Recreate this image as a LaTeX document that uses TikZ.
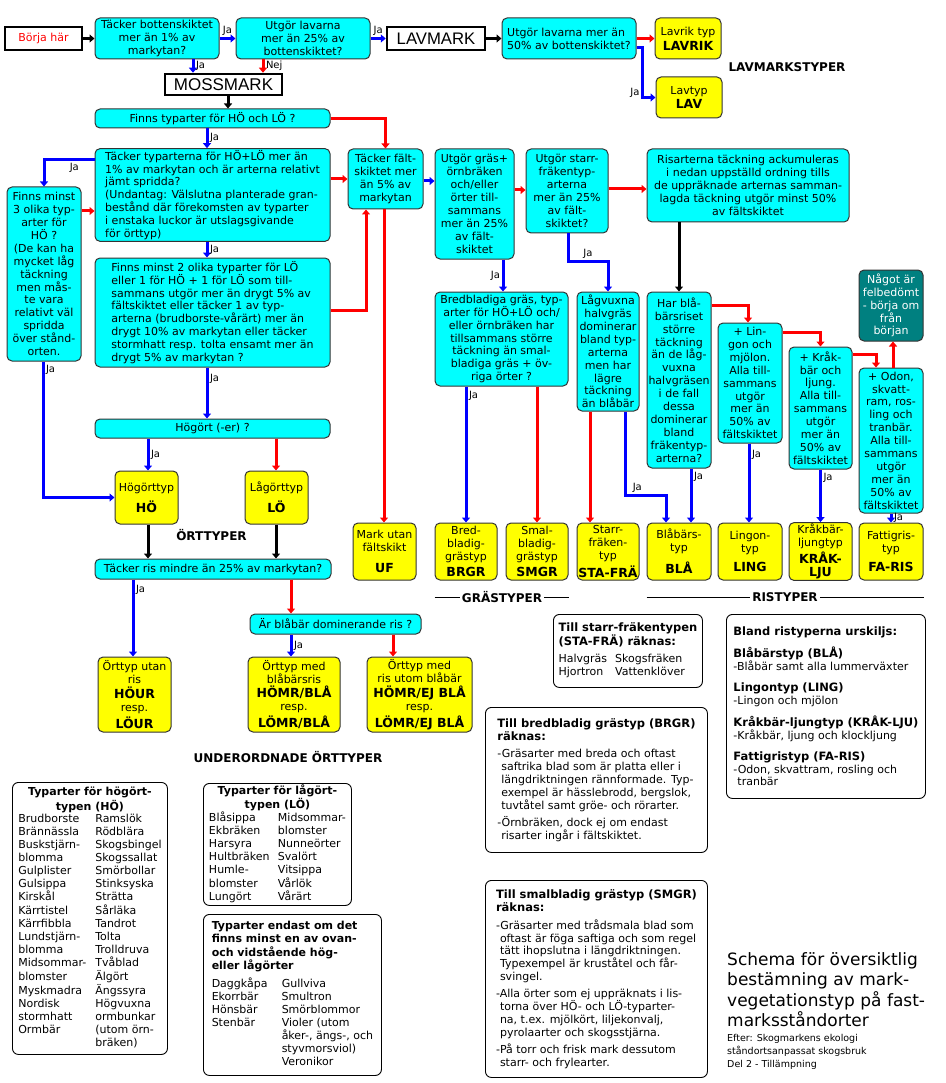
\documentclass[tikz,border=0pt]{standalone}
\usepackage{fontspec}
\setmainfont{DejaVu Sans}
\newfontfamily\marksans{Liberation Sans}
\usetikzlibrary{arrows.meta, positioning}
\definecolor{frgcyan}{RGB}{0,255,255}
\definecolor{typyellow}{RGB}{255,255,0}
\definecolor{felteal}{RGB}{0,128,128}
\definecolor{jablue}{RGB}{0,0,255}
\definecolor{nejred}{RGB}{255,0,0}
\newcommand\kodfont{\fontsize{12.5}{14}\selectfont\bfseries}
\newcommand\titfont{\fontsize{11.5}{14}\selectfont\bfseries}

\begin{document}
\begin{tikzpicture}[x=1pt, y=-1pt,
  every node/.style={font=\fontsize{11}{12.9}\selectfont},
  fraga/.style={rectangle, draw=black!80, fill=frgcyan, rounded corners=5pt, line width=1pt,
                inner sep=1.5pt, align=center},
  typ/.style={fraga, fill=typyellow},
  markbox/.style={rectangle, draw=black, line width=2.5pt, fill=white, inner sep=2pt},
  info/.style={rectangle, draw=black, rounded corners=6pt, line width=0.9pt, fill=white,
               align=left, inner sep=4pt, anchor=north west},
  wh/.style 2 args={minimum width=#1pt, minimum height=#2pt},
  lbl/.style={font=\fontsize{12}{14}\selectfont\bfseries, inner sep=2pt},
  svar/.style={font=\fontsize{10}{12}\selectfont, text=black, inner sep=1.5pt},
  ja/.style={draw=jablue, line width=3pt, -{Triangle[length=5pt,width=8pt]}},
  nej/.style={draw=nejred, line width=3pt, -{Triangle[length=5pt,width=8pt]}},
  sv/.style={draw=black, line width=3pt, -{Triangle[length=5pt,width=8pt]}},
]
  \useasboundingbox (0,0) rectangle (945,1083);

  % Start and ground types
  \node[markbox, wh={77}{23}, text=nejred] (start) at (43.5,38.5) {Börja här};
  \node[fraga, wh={124}{41}] (q1) at (157,38.5) {Täcker bottenskiktet\\mer än 1\% av\\markytan?};
  \node[fraga, wh={134}{41}] (q2) at (303,38.5) {Utgör lavarna\\mer än 25\% av\\bottenskiktet?};
  \node[markbox, wh={98}{23}, font=\marksans\fontsize{16.7}{18}\selectfont] (lavmark) at (436,38.5) {LAVMARK};
  \node[fraga, wh={134}{41}, align=left] (q3) at (569,38.5) {Utgör lavarna mer än\\50\% av bottenskiktet?};
  \node[typ, wh={66}{41}] (lavrik) at (688,38.5) {Lavrik typ\\[2pt]{\kodfont LAVRIK}};
  \node[typ, wh={66}{41}] (lav) at (689,97.5) {Lavtyp\\[2pt]{\kodfont LAV}};
  \node[lbl] (lavtyper) at (787,67) {LAVMARKSTYPER};
  \node[markbox, wh={117}{21}, font=\marksans\fontsize{17}{18}\selectfont] (mossmark) at (223.5,84.5) {MOSSMARK};

  % Herb questions
  \node[fraga, wh={235}{19}] (q4) at (212.5,118.5) {Finns typarter för HÖ och LÖ ?};
  \node[fraga, wh={235}{92}, align=left] (q5) at (212.5,195)
    {Täcker typarterna för HÖ+LÖ mer än\\1\% av markytan och är arterna relativt\\jämt spridda?\\(Undantag: Välslutna planterade gran-\\bestånd där förekomsten av typarter\\i enstaka luckor är utslagsgivande\\för örttyp)};
  \node[fraga, wh={74}{174}] (finns3) at (44,274)
    {Finns minst\\3 olika typ-\\arter för\\HÖ ?\\(De kan ha\\mycket låg\\täckning\\men mås-\\te vara\\relativt väl\\spridda\\över stånd-\\orten.};
  \node[fraga, wh={235}{109}, align=left] (q6) at (212.5,312.5)
    {Finns minst 2 olika typarter för LÖ\\eller 1 för HÖ + 1 för LÖ som till-\\sammans utgör mer än drygt 5\% av\\fältskiktet eller täcker 1 av typ-\\arterna (brudborste-vårärt) mer än\\drygt 10\% av markytan eller täcker\\stormhatt resp. tolta ensamt mer än\\drygt 5\% av markytan ?};

  % Field layer questions
  \node[fraga, wh={75}{60}] (falt) at (385.5,179) {Täcker fält-\\skiktet mer\\än 5\% av\\markytan};
  \node[fraga, wh={79}{110}] (gras) at (474.5,204) {Utgör gräs+\\örnbräken\\och/eller\\örter till-\\sammans\\mer än 25\%\\av fält-\\skiktet};
  \node[fraga, wh={82}{84}] (starr) at (567,191) {Utgör starr-\\fräkentyp-\\arterna\\mer än 25\%\\av fält-\\skiktet?};
  \node[fraga, wh={202}{73}] (ris) at (748,185.5) {Risarterna täckning ackumuleras\\i nedan uppställd ordning tills\\de uppräknade arternas samman-\\lagda täckning utgör minst 50\%\\av fältskiktet};
  \node[fraga, wh={133}{94}] (bred) at (501.5,339) {Bredbladiga gräs, typ-\\arter för HÖ+LÖ och/\\eller örnbräken har\\tillsammans större\\täckning än smal-\\bladiga gräs + öv-\\riga örter ?};
  \node[fraga, wh={62}{119}] (lag) at (608,351.5) {Lågvuxna\\halvgräs\\dominerar\\bland typ-\\arterna\\men har\\lägre\\täckning\\än blåbär};
  \node[fraga, wh={64}{176}] (har) at (679,380) {Har blå-\\bärsriset\\större\\täckning\\än de låg-\\vuxna\\halvgräsen\\i de fall\\dessa\\dominerar\\bland\\fräkentyp-\\arterna?};
  \node[fraga, wh={64}{120}] (lingq) at (750,383) {+ Lin-\\gon och\\mjölon.\\Alla till-\\sammans\\utgör\\mer än\\50\% av\\fältskiktet};
  \node[fraga, wh={63}{122}] (krakq) at (820.5,408) {+ Kråk-\\bär och\\ljung.\\Alla till-\\sammans\\utgör\\mer än\\50\% av\\fältskiktet};
  \node[fraga, wh={64}{145}] (odonq) at (891,440.5) {+ Odon,\\skvatt-\\ram, ros-\\ling och\\tranbär.\\Alla till-\\sammans\\utgör\\mer än\\50\% av\\fältskiktet};
  \node[fraga, wh={64}{71}, fill=felteal, text=white] (fel) at (891,305.5) {Något är\\felbedömt\\- börja om\\från\\början};

  % Grass and dwarf shrub types
  \node[typ, wh={63}{57}] (uf) at (384.5,551.5) {Mark utan\\fältskikt\\[8pt]{\kodfont UF}};
  \node[typ, wh={62}{57}] (brgr) at (466,551.5) {Bred-\\bladig-\\grästyp\\[3pt]{\kodfont BRGR}};
  \node[typ, wh={62}{57}] (smgr) at (537,551.5) {Smal-\\bladig-\\grästyp\\[3pt]{\kodfont SMGR}};
  \node[typ, wh={62}{57}, inner xsep=0.5pt] (stafra) at (608,551.5) {Starr-\\fräken-\\typ\\[3pt]{\kodfont STA-FRÄ}};
  \node[typ, wh={64}{57}] (bla) at (679,551.5) {Blåbärs-\\typ\\[7pt]{\kodfont BLÅ}};
  \node[typ, wh={64}{57}] (ling) at (750,551.5) {Lingon-\\typ\\[7pt]{\kodfont LING}};
  \node[typ, wh={63}{57}] (krak) at (820.5,551.5) {Kråkbär-\\ljungtyp\\[2pt]{\kodfont KRÅK-}\\{\kodfont LJU}};
  \node[typ, wh={64}{57}] (faris) at (891,551.5) {Fattigris-\\typ\\[7pt]{\kodfont FA-RIS}};
  \node[lbl] (grastyp) at (502,597) {GRÄSTYPER};
  \node[lbl] (ristyp) at (785,597) {RISTYPER};
  \draw[line width=0.8pt] (brgr.south west |- grastyp.west) -- (grastyp.west);
  \draw[line width=0.8pt] (grastyp.east) -- (smgr.south east |- grastyp.east);
  \draw[line width=0.8pt] (bla.south west |- ristyp.west) -- (ristyp.west);
  \draw[line width=0.8pt] (ristyp.east) -- (faris.south east |- ristyp.east);

  % Herb types
  \node[fraga, wh={235}{19}] (hogort) at (212.5,428.5) {Högört (-er) ?};
  \node[typ, wh={63}{53}] (ho) at (146.5,497.5) {Högörttyp\\[6pt]{\kodfont HÖ}};
  \node[typ, wh={63}{53}] (lo) at (276.5,497.5) {Lågörttyp\\[6pt]{\kodfont LÖ}};
  \node[lbl] (orttyper) at (211.5,535) {ÖRTTYPER};
  \node[fraga, wh={236}{20}] (risq) at (213,569) {Täcker ris mindre än 25\% av markytan?};
  \node[fraga, wh={171}{20}] (blaq) at (335.5,624) {Är blåbär dominerande ris ?};
  \node[typ, wh={73}{75}] (hour) at (134.5,694.5) {Örttyp utan\\ris\\[2pt]{\kodfont HÖUR}\\resp.\\[2pt]{\kodfont LÖUR}};
  \node[typ, wh={92}{75}] (hombla) at (294,694.5) {Örttyp med\\blåbärsris\\[2pt]{\kodfont HÖMR/BLÅ}\\resp.\\[2pt]{\kodfont LÖMR/BLÅ}};
  \node[typ, wh={105}{75}] (homej) at (419.5,694.5) {Örttyp med\\ris utom blåbär\\[2pt]{\kodfont HÖMR/EJ BLÅ}\\resp.\\[2pt]{\kodfont LÖMR/EJ BLÅ}};
  \node[lbl] (underord) at (288,757) {UNDERORDNADE ÖRTTYPER};

  % Connectors, top
  \draw[sv] (start.east) -- (q1.west);
  \draw[ja] (q1.east) -- node[svar, above]{Ja} (q2.west);
  \draw[ja] (q2.east) -- node[svar, above]{Ja} (lavmark.west);
  \draw[sv] (lavmark.east) -- (q3.west);
  \draw[nej] (q3.east) -- (lavrik.west);
  \draw[ja] ([yshift=-9.5pt]q3.east) -- ++(6,0) |- node[svar, pos=0.45, left]{Ja} (lav.west);
  \draw[ja] ([xshift=36pt]q1.south) -- node[svar, right]{Ja} ([xshift=-30.5pt]mossmark.north);
  \draw[nej] ([xshift=-40pt]q2.south) -- node[svar, right]{Nej} ([xshift=39.5pt]mossmark.north);
  \draw[sv] ([xshift=4.5pt]mossmark.south) -- ([xshift=15.5pt]q4.north);
  \draw[nej] (q4.east) -| (falt.north);
  \draw[ja] ([xshift=-5.5pt]q4.south) -- node[svar, right]{Ja} ([xshift=-5.5pt]q5.north);

  % Connectors, herbs
  \draw[ja] ([yshift=35pt]q5.west) -| node[svar, pos=0.2, below]{Ja} (finns3.north);
  \draw[nej] ([yshift=63pt]finns3.east) -- ([yshift=-16pt]q5.west);
  \draw[nej] ([yshift=16pt]q5.east) -- (falt.west);
  \draw[ja] ([xshift=-5.5pt]q5.south) -- node[svar, right]{Ja} ([xshift=-5.5pt]q6.north);
  \draw[nej] ([yshift=2.5pt]q6.east) -| ([xshift=-19.5pt]falt.south);
  \draw[ja] ([xshift=-5.5pt]q6.south) -- node[svar, pos=0.22, right]{Ja} ([xshift=-5.5pt]hogort.north);
  \draw[ja] ([xshift=-1pt]finns3.south) |- node[svar, pos=0.03, right]{Ja} (ho.west);
  \draw[ja] ([xshift=-64.5pt]hogort.south) -- node[svar, right]{Ja} ([xshift=1.5pt]ho.north);
  \draw[nej] ([xshift=63.5pt]hogort.south) -- ([xshift=-0.5pt]lo.north);
  \draw[sv] ([xshift=1.5pt]ho.south) -- ([xshift=-65pt]risq.north);
  \draw[sv] ([xshift=-0.5pt]lo.south) -- ([xshift=63pt]risq.north);
  \draw[ja] ([xshift=-80pt]risq.south) -- node[svar, pos=0.13, right]{Ja} ([xshift=-1.5pt]hour.north);
  \draw[nej] ([xshift=78pt]risq.south) -- ([xshift=-44.5pt]blaq.north);
  \draw[ja] ([xshift=-44.5pt]blaq.south) -- node[svar, right]{Ja} ([xshift=-3pt]hombla.north);
  \draw[nej] ([xshift=57.5pt]blaq.south) -- ([xshift=-26.5pt]homej.north);

  % Connectors, field layer
  \draw[nej] ([xshift=-1.5pt]falt.south) -- ([xshift=-0.5pt]uf.north);
  \draw[ja] ([yshift=-2pt]falt.east) -- ([yshift=23pt]gras.west);
  \draw[nej] ([yshift=14pt]gras.east) -- ([yshift=1pt]starr.west);
  \draw[ja] ([xshift=28.5pt]gras.south) -- node[svar, left]{Ja} ([xshift=1.5pt]bred.north);
  \draw[nej] ([yshift=2pt]starr.east) -- ([yshift=-3.5pt]ris.west);
  \draw[ja] ([xshift=1pt]starr.south) -- ++(0,28) -| node[svar, pos=0.25, above]{Ja} (lag.north);
  \draw[sv] ([xshift=-69pt]ris.south) -- (har.north);
  \draw[ja] ([xshift=-35.5pt]bred.south) -- node[svar, pos=0.07, right]{Ja} (brgr.north);
  \draw[nej] ([xshift=35.5pt]bred.south) -- (smgr.north);
  \draw[nej] ([xshift=-18pt]lag.south) -- ([xshift=-18pt]stafra.north);
  \draw[ja] ([xshift=17pt]lag.south) -- ++(0,84) -| node[svar, pos=0.15, above]{Ja} ([xshift=-13pt]bla.north);
  \draw[ja] ([xshift=12pt]har.south) -- node[svar, pos=0.16, right]{Ja} ([xshift=12pt]bla.north);
  \draw[nej] ([yshift=75pt]har.east) -| ([xshift=-2pt]lingq.north);
  \draw[ja] ([xshift=-1pt]lingq.south) -- node[svar, pos=0.15, right]{Ja} ([xshift=-1pt]ling.north);
  \draw[nej] ([yshift=51pt]lingq.east) -| (krakq.north);
  \draw[ja] (krakq.south) -- node[svar, pos=0.15, right]{Ja} (krak.north);
  \draw[nej] ([yshift=54pt]krakq.east) -| ([xshift=-15pt]odonq.north);
  \draw[nej] ([xshift=2pt]odonq.north) -- ([xshift=2pt]fel.south);
  \draw[ja] (odonq.south) -- node[svar, right]{Ja} (faris.north);

  % Notes
  \node[info, wh={149}{73}] (infostafra) at (553,614)
    {\begin{tabular}{@{}l@{\hspace{8pt}}l@{}}
     \multicolumn{2}{@{}l@{}}{\titfont Till starr-fräkentypen}\\
     \multicolumn{2}{@{}l@{}}{\titfont (STA-FRÄ) räknas:}\\[4pt]
     Halvgräs & Skogsfräken\\
     Hjortron & Vattenklöver
     \end{tabular}};
  \node[info, wh={199}{184}] (inforis) at (726,614)
    {{\titfont Bland ristyperna urskiljs:}\\[8pt]
     {\titfont Blåbärstyp (BLÅ)}\\-Blåbär samt alla lummerväxter\\[8pt]
     {\titfont Lingontyp (LING)}\\-Lingon och mjölon\\[8pt]
     {\titfont Kråkbär-ljungtyp (KRÅK-LJU)}\\-Kråkbär, ljung och klockljung\\[8pt]
     {\titfont Fattigristyp (FA-RIS)}\\-Odon, skvattram, rosling och\\\phantom{-}tranbär};
  \node[info, wh={222}{145}] (infobrgr) at (485,707)
    {{\titfont Till bredbladig grästyp (BRGR)}\\{\titfont räknas:}\\[5pt]
     -Gräsarter med breda och oftast\\\phantom{-}saftrika blad som är platta eller i\\\phantom{-}längdriktningen rännformade. Typ-\\\phantom{-}exempel är hässlebrodd, bergslok,\\\phantom{-}tuvtåtel samt gröe- och rörarter.\\[4pt]
     -Örnbräken, dock ej om endast\\\phantom{-}risarter ingår i fältskiktet.};
  \node[info, wh={222}{197}] (infosmgr) at (485,880)
    {{\titfont Till smalbladig grästyp (SMGR)}\\{\titfont räknas:}\\[5pt]
     -Gräsarter med trådsmala blad som\\\phantom{-}oftast är föga saftiga och som regel\\\phantom{-}tätt ihopslutna i längdriktningen.\\\phantom{-}Typexempel är kruståtel och får-\\\phantom{-}svingel.\\[4pt]
     -Alla örter som ej uppräknats i lis-\\\phantom{-}torna över HÖ- och LÖ-typarter-\\\phantom{-}na, t.ex. mjölkört, liljekonvalj,\\\phantom{-}pyrolaarter och skogsstjärna.\\[4pt]
     -På torr och frisk mark dessutom\\\phantom{-}starr- och frylearter.};

  % Species lists
  \node[info, wh={155}{272}, inner sep=0pt] (listho) at (12,782)
    {\begin{tabular}{@{}p{72pt}@{\hspace{5pt}}l@{}}
     \multicolumn{2}{c}{\bfseries Typarter för högört-}\\
     \multicolumn{2}{c}{\bfseries typen (HÖ)}\\
     Brudborste & Ramslök\\ Brännässla & Rödblära\\ Buskstjärn- & Skogsbingel\\
     blomma & Skogssallat\\ Gulplister & Smörbollar\\ Gulsippa & Stinksyska\\
     Kirskål & Strätta\\ Kärrtistel & Sårläka\\ Kärrfibbla & Tandrot\\
     Lundstjärn- & Tolta\\ blomma & Trolldruva\\ Midsommar- & Tvåblad\\
     blomster & Älgört\\ Myskmadra & Ängssyra\\ Nordisk & Högvuxna\\
     stormhatt & ormbunkar\\ Ormbär & (utom örn-\\ & bräken)
     \end{tabular}};
  \node[info, wh={148}{122}, inner sep=0pt] (listlo) at (203,783)
    {\begin{tabular}{@{}p{64pt}@{\hspace{5pt}}l@{}}
     \multicolumn{2}{c}{\bfseries Typarter för lågört-}\\
     \multicolumn{2}{c}{\bfseries typen (LÖ)}\\
     Blåsippa & Midsommar-\\ Ekbräken & blomster\\ Harsyra & Nunneörter\\
     Hultbräken & Svalört\\ Humle- & Vitsippa\\ blomster & Vårlök\\ Lungört & Vårärt
     \end{tabular}};
  \node[info, wh={178}{161}, inner sep=0pt] (listend) at (203,914)
    {\begin{tabular}{@{}p{65pt}@{\hspace{5pt}}l@{}}
     \multicolumn{2}{@{}l@{}}{\bfseries Typarter endast om det}\\
     \multicolumn{2}{@{}l@{}}{\bfseries finns minst en av ovan-}\\
     \multicolumn{2}{@{}l@{}}{\bfseries och vidstående hög-}\\
     \multicolumn{2}{@{}l@{}}{\bfseries eller lågörter}\\[4pt]
     Daggkåpa & Gullviva\\ Ekorrbär & Smultron\\ Hönsbär & Smörblommor\\
     Stenbär & Violer (utom\\ & åker-, ängs-, och\\ & styvmorsviol)\\ & Veronikor
     \end{tabular}};

  % Title
  \node[anchor=north west, align=left, inner sep=0pt, font=\fontsize{17}{20.5}\selectfont] (rubrik) at (727,952)
    {Schema för översiktlig\\bestämning av mark-\\vegetationstyp på fast-\\marksståndorter};
  \node[anchor=north west, align=left, inner sep=0pt, font=\fontsize{9.5}{12.8}\selectfont] (kalla) at (727,1034)
    {Efter: Skogmarkens ekologi\\ståndortsanpassat skogsbruk\\Del 2 - Tillämpning};
\end{tikzpicture}
\end{document}
